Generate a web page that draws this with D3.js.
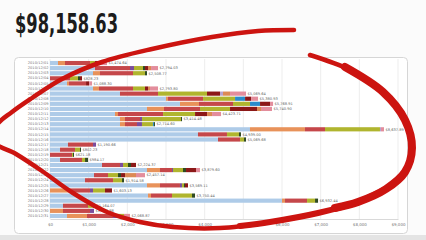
<!DOCTYPE html>
<html>
<head>
<meta charset="utf-8">
<script src="https://cdnjs.cloudflare.com/ajax/libs/d3/7.8.5/d3.min.js"></script>
<style>
  body { margin: 0; background: #fbfbfb; }
  svg { display: block; }
</style>
</head>
<body>
<div id="chart"></div>
<script>
// daily totals, one stacked bar per day
var days = [];
for (var d = 1; d <= 31; d++) {
    days.push("2010/12/" + (d < 10 ? "0" + d : d));
}

var titleText = "$98,158.63";

var lightBlue = [207, 1164, 1112, 0, 440, 1112, 1810, 3000, 3362, 2508, 1681, 1810, 1810, 5172, 3827, 4345, 465, 259, 0, 259, 1345, 2508, 1138, 905, 2508, 0, 2534, 6000, 336, 0, 440];
var orange = [181, 0, 181, 0, 52, 155, 0, 52, 491, 440, 78, 129, 129, 1422, 0, 0, 0, 0, 0, 0, 0, 336, 0, 0, 336, 517, 78, 78, 0, 336, 517];
var red = [647.64, 905.03, 853.77, 517.23, 440.30, 879.80, 983.64, 905.93, 879.91, 931.90, 1164.71, 388.48, 310.60, 517.89, 750.00, 569.68, 647.66, 388.23, 569.18, 569.17, 465.37, 310.60, 362.14, 724.58, 517.11, 517.13, 543.44, 569.44, 647.07, 698.88, 672.87];
var purple = [0, 103, 0, 0, 0, 0, 0, 0, 0, 0, 0, 52, 129, 0, 0, 0, 78, 0, 0, 0, 78, 26, 0, 0, 52, 78, 0, 0, 0, 103, 103];
var olive = [129, 233, 310, 207, 0, 310, 1267, 828, 440, 776, 828, 1009, 284, 1422, 310, 103, 0, 129, 26, 78, 129, 259, 259, 233, 52, 310, 517, 207, 129, 0, 181];
var blue = [0, 0, 0, 0, 0, 0, 0, 259, 259, 0, 0, 0, 26, 0, 0, 0, 0, 0, 0, 0, 0, 0, 0, 0, 0, 0, 0, 0, 0, 0, 0];
var darkGreen = [0, 52, 52, 52, 0, 0, 0, 0, 0, 0, 0, 26, 26, 0, 52, 52, 0, 26, 26, 78, 78, 78, 78, 52, 26, 0, 78, 78, 52, 0, 0];
var darkRed = [129, 78, 0, 52, 78, 78, 336, 155, 259, 698, 310, 0, 0, 0, 0, 0, 0, 0, 0, 0, 129, 259, 103, 0, 78, 181, 0, 0, 0, 0, 0];
var lavender = [0, 0, 0, 0, 0, 0, 78, 0, 0, 0, 0, 0, 0, 26, 0, 0, 0, 0, 0, 0, 0, 0, 0, 0, 0, 0, 0, 0, 0, 0, 0];
var peach = [0, 78, 0, 0, 0, 52, 181, 0, 0, 103, 129, 0, 0, 0, 0, 0, 0, 0, 0, 0, 0, 0, 284, 0, 0, 0, 0, 0, 0, 0, 0];
var pink = [181, 181, 0, 0, 78, 207, 414, 181, 78, 284, 233, 0, 0, 78, 0, 0, 0, 0, 0, 0, 0, 103, 233, 0, 0, 0, 0, 0, 0, 0, 155];

var seriesNames = ["lightBlue", "orange", "red", "purple", "olive", "blue", "darkGreen", "darkRed", "lavender", "peach", "pink"];
var seriesValues = [lightBlue, orange, red, purple, olive, blue, darkGreen, darkRed, lavender, peach, pink];
var seriesColors = ["#aecbe8", "#e8925a", "#c5474a", "#7b4c9c", "#b0b52e", "#2a8ccc", "#2f4a22", "#8c1818", "#b7a3cf", "#dc8a55", "#e38d9c"];

var xTicks = [0, 1000, 2000, 3000, 4000, 5000, 6000, 7000, 8000, 9000];

// hand drawn red circle round the chart (pixel points)
var scribble = [[310, 55], [350, 70], [383, 92], [405, 120], [412, 148], [405, 172], [386, 189], [358, 202], [318, 213], [270, 222], [220, 228], [173, 227], [140, 222], [107, 212], [73, 193], [42, 171], [16, 154], [-6, 142], [-4, 126], [12, 112], [32, 98], [62, 79], [102, 62], [152, 49], [212, 37], [258, 31], [294, 30]];
var scribbleThick = [[345, 67], [383, 92], [405, 120], [412, 148], [405, 172], [386, 189], [358, 202], [335, 208]];
var scribbleMid = [[386, 189], [358, 202], [318, 213], [270, 222], [240, 226]];

var svgWidth = 426;
var svgHeight = 240;

var svg = d3.select("#chart")
    .append("svg")
    .attr("width", svgWidth)
    .attr("height", svgHeight);

// big total at the top
svg.append("text")
    .attr("x", 15)
    .attr("y", 33)
    .attr("textLength", 103)
    .attr("lengthAdjust", "spacingAndGlyphs")
    .style("font-family", "'DejaVu Sans Condensed', 'Liberation Sans Narrow', sans-serif")
    .style("font-weight", "bold")
    .style("font-size", "26px")
    .attr("fill", "#1c1c1c")
    .text(titleText);

// panel
svg.append("rect")
    .attr("x", 0)
    .attr("y", 235)
    .attr("width", svgWidth)
    .attr("height", 5)
    .attr("fill", "#e4e4e4");

svg.append("rect")
    .attr("x", 14.5)
    .attr("y", 57.5)
    .attr("width", 393)
    .attr("height", 176)
    .attr("rx", 4)
    .attr("fill", "#ffffff")
    .attr("stroke", "#d6d6d6");

var xScale = d3.scaleLinear()
    .domain([0, 9000])
    .range([50, 398]);

var yScale = d3.scaleBand()
    .domain(days)
    .range([60.5, 218.5])
    .paddingInner(0.18)
    .paddingOuter(0.09);

// grid lines
svg.append("g")
    .selectAll("line")
    .data(xTicks)
    .enter().append("line")
    .attr("x1", function(t) { return xScale(t); })
    .attr("x2", function(t) { return xScale(t); })
    .attr("y1", 59)
    .attr("y2", 219)
    .attr("stroke", "#e8e8e8")
    .attr("stroke-width", 0.8);

// stack the series
var rows = days.map(function(day, i) {
    var row = { day: day };
    seriesNames.forEach(function(name, k) {
        row[name] = seriesValues[k][i];
    });
    return row;
});

var stack = d3.stack().keys(seriesNames);
var layers = stack(rows);

var chart = svg.append("g");

chart.selectAll("g.layer")
    .data(layers)
    .enter().append("g")
    .attr("class", "layer")
    .attr("fill", function(layer, k) { return seriesColors[k]; })
    .selectAll("rect")
    .data(function(layer) { return layer; })
    .enter().append("rect")
    .attr("x", function(p) { return xScale(p[0]); })
    .attr("y", function(p) { return yScale(p.data.day); })
    .attr("width", function(p) { return xScale(p[1]) - xScale(p[0]); })
    .attr("height", yScale.bandwidth());

// totals at the end of each bar
var fmt = d3.format("$,.2f");
chart.selectAll("text.total")
    .data(rows)
    .enter().append("text")
    .attr("class", "total")
    .attr("x", function(r, i) {
        var total = d3.sum(seriesValues, function(s) { return s[i]; });
        return xScale(total) + 1.5;
    })
    .attr("y", function(r) { return yScale(r.day) + yScale.bandwidth() / 2; })
    .attr("dy", "0.35em")
    .style("font-family", "'DejaVu Sans', sans-serif")
    .style("font-size", "3.6px")
    .attr("fill", "#666")
    .text(function(r, i) {
        return fmt(d3.sum(seriesValues, function(s) { return s[i]; }));
    });

// axes
var bottomAxis = d3.axisBottom(xScale)
    .tickValues(xTicks)
    .tickSize(0)
    .tickPadding(4)
    .tickFormat(d3.format("$,"));

var leftAxis = d3.axisLeft(yScale)
    .tickSize(0)
    .tickPadding(1.5);

var xAxisG = svg.append("g")
    .attr("transform", "translate(0, 219)")
    .call(bottomAxis);
xAxisG.select(".domain").attr("stroke", "#cfcfcf").attr("stroke-width", 0.8);
xAxisG.selectAll("text")
    .style("font-family", "'DejaVu Sans', sans-serif")
    .style("font-size", "4px")
    .attr("fill", "#777");

var yAxisG = svg.append("g")
    .attr("transform", "translate(50, 0)")
    .call(leftAxis);
yAxisG.select(".domain").remove();
yAxisG.selectAll("text")
    .style("font-family", "'DejaVu Sans', sans-serif")
    .style("font-size", "3.6px")
    .attr("fill", "#777");

// red marker scribble, thicker where the pen pressed harder
var line = d3.line().curve(d3.curveCatmullRom.alpha(0.5));

svg.append("path")
    .attr("d", line(scribble))
    .attr("fill", "none")
    .attr("stroke", "#cc1410")
    .attr("stroke-width", 4.5)
    .attr("stroke-linecap", "round");

svg.append("path")
    .attr("d", line(scribbleMid))
    .attr("fill", "none")
    .attr("stroke", "#cc1410")
    .attr("stroke-width", 6)
    .attr("stroke-linecap", "round");

svg.append("path")
    .attr("d", line(scribbleThick))
    .attr("fill", "none")
    .attr("stroke", "#cc1410")
    .attr("stroke-width", 8)
    .attr("stroke-linecap", "round");
</script>
</body>
</html>
